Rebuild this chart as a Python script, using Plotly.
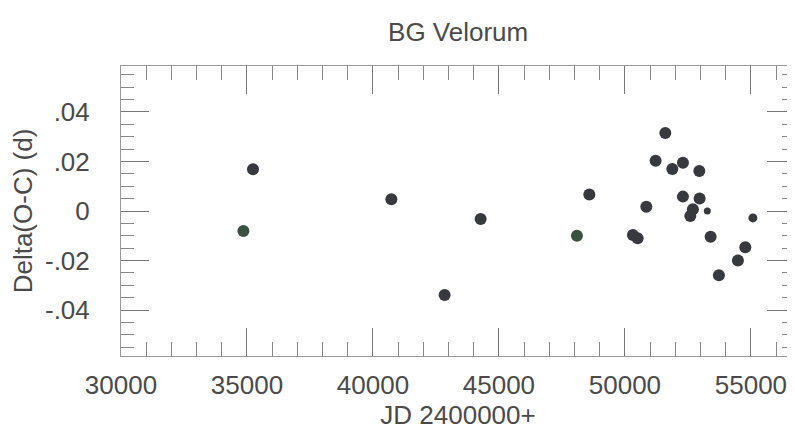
import plotly.graph_objects as go

# Data (JD - 2400000, O-C in days)
main_jd = [35238, 40730, 42845, 44274, 48587, 50317, 50504, 50849, 51218, 51603,
           51881, 52302, 52302, 52698, 52595, 52952, 52964, 53401, 53730, 54484, 54778]
main_oc = [0.0168, 0.0047, -0.0339, -0.0032, 0.0067, -0.0097, -0.0110, 0.0017, 0.0203, 0.0315,
           0.0169, 0.0195, 0.0058, 0.0007, -0.0020, 0.0161, 0.0050, -0.0104, -0.0259, -0.0200, -0.0146]
green_jd = [34857, 48095]
green_oc = [-0.0081, -0.0100]
small_jd = [53270, 55079]
small_oc = [0.0000, -0.0028]

y_tickvals = [-0.04, -0.02, 0, 0.02, 0.04]
y_ticktext = ["-.04", "-.02", "0", ".02", ".04"]
x_tickvals = [30000, 35000, 40000, 45000, 50000, 55000]
x_ticktext = ["30000", "35000", "40000", "45000", "50000", "55000"]

FONT = "Liberation Sans, Arial, sans-serif"
TXT = "#4a4a4a"
FS = 26

fig = go.Figure()
fig.add_trace(go.Scatter(x=main_jd, y=main_oc, mode="markers",
                         marker=dict(size=12, color="#38383f", opacity=1, line=dict(width=0))))
fig.add_trace(go.Scatter(x=green_jd, y=green_oc, mode="markers",
                         marker=dict(size=12, color="#3a5240", opacity=1, line=dict(width=0))))
fig.add_trace(go.Scatter(x=small_jd, y=small_oc, mode="markers",
                         marker=dict(size=[7, 9], color="#38383f", opacity=1,
                                     line=dict(width=0))))

# page body has an 8px default margin, so the figure is sized to fit the window
fig.update_layout(
    width=787, height=429,
    margin=dict(l=113, r=0, t=58, b=81, autoexpand=False),
    paper_bgcolor="white", plot_bgcolor="white",
    showlegend=False,
    font=dict(family=FONT, color=TXT, size=FS),
    title=dict(text="BG Velorum", x=0.572, xanchor="center", y=0.944, yanchor="middle",
               font=dict(family=FONT, size=FS, color=TXT)),
)
fig.update_xaxes(
    range=[30000, 56750], tickvals=x_tickvals, ticktext=x_ticktext,
    ticks="inside", ticklen=28, tickwidth=1, tickcolor="#777",
    minor=dict(dtick=1000, tick0=30000, ticks="inside", ticklen=14, tickwidth=1, tickcolor="#888"),
    showline=True, linecolor="#999", linewidth=1, mirror="ticks",
    showgrid=False, zeroline=False, automargin=False,
    tickfont=dict(family=FONT, size=FS, color=TXT), ticklabelstandoff=6,
    title=dict(text="JD 2400000+", font=dict(family=FONT, size=FS, color=TXT), standoff=4),
)
fig.update_yaxes(
    range=[-0.0585, 0.0585], tickvals=y_tickvals, ticktext=y_ticktext,
    ticks="inside", ticklen=28, tickwidth=1, tickcolor="#777",
    minor=dict(dtick=0.005, tick0=0, ticks="inside", ticklen=13, tickwidth=1, tickcolor="#888"),
    showline=True, linecolor="#999", linewidth=1, mirror="ticks",
    showgrid=False, zeroline=False, automargin=False,
    tickfont=dict(family=FONT, size=FS, color=TXT), ticklabelstandoff=25,
    title=dict(text="Delta(O-C) (d)", font=dict(family=FONT, size=FS, color=TXT), standoff=8),
)

fig.write_html("out.html")
